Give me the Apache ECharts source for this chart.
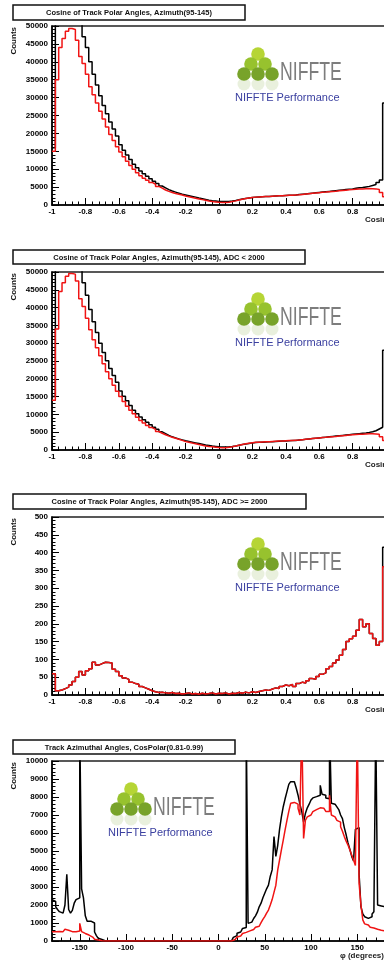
<!DOCTYPE html>
<html><head><meta charset="utf-8">
<script src="https://cdn.jsdelivr.net/npm/echarts@6/dist/echarts.min.js"></script>
<style>html,body{margin:0;padding:0;background:#fff}#c{width:384px;height:961px}</style>
</head><body><div id="c"></div><script>
// ---------- DATA ----------
// Cosine histograms: 100 bins of width 0.02 from -1 to 1 (values per bin)
const cosBinLow = -1, cosBinWidth = 0.02;
const cosTickLabels = ['-1','-0.8','-0.6','-0.4','-0.2','0','0.2','0.4','0.6','0.8','1'];

const p1Black = [
 16000,55000,62000,66000,68000,68000,65000,58000,51000,47000,
 44000,40000,36500,33500,30500,27800,25500,23200,21200,19300,
 16800,15300,14000,12700,11400,10400,9500,8700,8000,7300,
 6600,6000,5300,4800,4300,3900,3600,3300,3000,2800,
 2600,2400,2200,1950,1750,1550,1350,1200,1100,1000,
 950,950,1000,1100,1250,1450,1650,1800,1950,2100,
 2200,2250,2300,2350,2400,2450,2500,2550,2600,2650,
 2700,2750,2800,2900,3000,3100,3200,3300,3400,3500,
 3600,3700,3800,3900,4000,4100,4200,4300,4400,4500,
 4650,4800,4900,5050,5200,5450,5700,6300,7000,28500];
const p1Red = [
 15000,35000,44000,46500,48500,49300,49000,46000,41500,39500,
 36500,33000,30800,28500,26200,24000,21800,19700,18000,16300,
 14800,13500,12200,11000,10000,9000,8200,7500,6900,6300,
 5800,5200,4700,4200,3800,3500,3200,3000,2800,2500,
 2300,2100,1900,1700,1500,1300,1100,950,850,750,
 700,700,800,950,1150,1400,1600,1800,1950,2100,
 2200,2250,2300,2350,2400,2450,2500,2550,2600,2650,
 2700,2750,2800,2850,2950,3050,3150,3250,3350,3450,
 3550,3600,3700,3800,3850,3950,4050,4150,4250,4300,
 4400,4450,4500,4550,4600,4550,4500,4300,3500,2300];

const p2Black = [
 15000,54000,61000,65000,67000,67000,64000,57000,50500,47000,
 43500,39500,36000,33000,30000,27400,25100,22900,20900,19000,
 16600,15100,13800,12500,11200,10200,9300,8500,7800,7100,
 6400,5800,5100,4600,4100,3700,3400,3100,2850,2600,
 2400,2200,2000,1800,1600,1400,1250,1100,1000,900,
 850,850,900,1000,1150,1350,1550,1700,1850,2000,
 2100,2150,2200,2250,2300,2350,2400,2450,2500,2550,
 2600,2650,2700,2800,2900,3000,3100,3200,3300,3400,
 3500,3600,3700,3800,3900,4000,4100,4200,4300,4400,
 4500,4600,4700,4800,4950,5150,5400,5900,6400,28000];
const p2Red = [
 14000,34000,44500,47000,48800,49600,49400,47500,42500,40300,
 37000,33800,31000,28700,26500,24200,22000,20000,18200,16500,
 15000,13600,12300,11200,10200,9200,8300,7600,6900,6300,
 5800,5200,4700,4300,3900,3600,3300,3000,2700,2400,
 2200,1950,1750,1550,1350,1150,1000,900,800,700,
 650,650,750,900,1100,1350,1550,1750,1900,2050,
 2150,2200,2250,2300,2350,2400,2450,2500,2550,2600,
 2650,2700,2750,2800,2900,3000,3100,3200,3300,3400,
 3500,3550,3650,3750,3800,3900,4000,4100,4200,4300,
 4350,4400,4450,4500,4550,4550,4500,4400,3700,2700];

const p3Black = [
 60,12,14,18,22,28,38,50,66,56,
 68,74,92,84,88,92,91,90,72,66,
 54,48,44,36,32,30,24,20,16,12,
 9,7,8,6,5,7,4,5,3,4,
 6,3,4,2,5,3,4,6,3,5,
 4,6,3,5,4,7,5,8,6,9,
 7,10,12,14,13,17,20,18,24,28,
 26,30,24,32,36,34,40,46,44,52,
 58,62,74,80,90,98,112,128,150,158,
 165,182,212,192,200,173,159,140,150,415];
const p3Red = [
 60,12,14,18,22,28,38,50,66,56,
 68,74,92,84,88,92,91,90,72,66,
 54,48,44,36,32,30,24,20,16,12,
 9,7,8,6,5,7,4,5,3,4,
 6,3,4,2,5,3,4,6,3,5,
 4,6,3,5,4,7,5,8,6,9,
 7,10,12,14,13,17,20,18,24,28,
 26,30,24,32,36,34,40,46,44,52,
 58,62,74,80,90,98,112,128,150,158,
 165,182,212,192,200,173,159,140,150,360];

// Azimuth histograms: 180 bins of width 2 degrees from -180 to 180
const phiBinLow = -180, phiBinWidth = 2;
const phiTickValues = [-150,-100,-50,0,50,100,150];
const p4Black = [
 2300,2200,1900,1750,1630,1550,1600,2000,3700,1750,
 1550,1700,2100,2300,2400,12000,2900,2400,1400,1100,
 1100,1170,1000,500,300,150,80,20,0,0,
 0,0,0,0,0,0,0,0,0,0,
 0,0,0,0,0,0,0,0,0,0,
 0,0,0,0,0,0,0,0,0,0,
 0,0,0,0,0,0,0,0,0,0,
 0,0,0,0,0,0,0,0,0,0,
 0,0,0,0,0,0,0,0,0,0,
 0,0,0,0,0,0,0,60,200,300,
 430,500,610,700,750,12000,980,1050,1100,1250,
 1400,1600,1900,2100,2400,2650,2900,3100,3600,3950,
 5800,4700,5300,6200,6900,7460,7900,8300,8700,8850,
 8850,8800,8500,8100,7600,7200,6600,7100,7400,7600,
 7830,7950,8020,8100,8100,8650,8150,8100,7950,7900,
 12000,7650,7600,7560,7450,7300,7000,6800,6300,5900,
 5450,5100,4700,4450,6200,6300,3700,1900,1500,1350,
 1260,1300,1350,1500,1630,12000,2000,1950,1900,1900];
const p4Red = [
 520,520,560,530,520,520,560,650,600,540,
 520,520,520,540,560,980,520,420,390,330,
 300,220,150,100,60,30,10,0,0,0,
 0,0,0,0,0,0,0,0,0,0,
 0,0,0,0,0,0,0,0,0,0,
 0,0,0,0,0,0,0,0,0,0,
 0,0,0,0,0,0,0,0,0,0,
 0,0,0,0,0,0,0,0,0,0,
 0,0,0,0,0,0,0,0,0,0,
 0,0,0,0,0,0,0,20,80,150,
 220,280,330,420,480,520,560,600,640,700,
 760,820,920,1020,1200,1350,1550,1720,2000,2300,
 2700,3100,3940,4500,5060,5600,6170,6700,7200,7650,
 7700,7740,7600,7370,7000,12000,5700,6720,6900,7000,
 7100,7190,7300,7370,7400,7370,7370,7300,7200,7190,
 8100,7000,6900,6820,6700,6600,6350,6100,5800,5550,
 5330,5050,4780,4500,4200,12000,3200,2000,1170,950,
 890,820,760,720,680,650,620,600,580,560];

const titles = [
 'Cosine of Track Polar Angles, Azimuth(95-145)',
 'Cosine of Track Polar Angles, Azimuth(95-145), ADC < 2000',
 'Cosine of Track Polar Angles, Azimuth(95-145), ADC >= 2000',
 'Track Azimuthal Angles, CosPolar(0.81-0.99)'];
const yTitle = 'Counts';
const xTitles = ['Cosine', 'Cosine', 'Cosine', '\u03c6 (degrees)'];

// ---------- BUILD ----------
function hist(low, width, vals) {
  const d = vals.map((v, i) => [+(low + i * width).toFixed(4), v]);
  d.push([+(low + vals.length * width).toFixed(4), vals[vals.length - 1]]);
  return d;
}
const FONT = 'Liberation Sans';
const BLACK = '#000', RED = '#f01414';
const grids = [
  {left: 52, top: 26, width: 334, height: 179},
  {left: 52, top: 272, width: 334, height: 178},
  {left: 52, top: 517, width: 334, height: 178},
  {left: 52, top: 761, width: 333, height: 180}
].map(g => Object.assign(g, {show: true, borderColor: '#222', borderWidth: 1.5,
  containLabel: false, outerBoundsMode: 'none'}));

const lbl = {color: '#000', fontSize: 8, fontWeight: 'bold', fontFamily: FONT};
function cosX(gi) {
  return {gridIndex: gi, type: 'value', min: -1, max: 1, interval: 0.2,
    axisLine: {show: true, onZero: false, lineStyle: {color: '#000', width: 1.5}},
    axisTick: {show: true, inside: true, length: 7, lineStyle: {color: '#000'}},
    minorTick: {show: true, splitNumber: 5, length: 3.5, lineStyle: {color: '#000'}},
    splitLine: {show: false}, minorSplitLine: {show: false},
    axisLabel: Object.assign({margin: 3, formatter: v => cosTickLabels[Math.round((v + 1) / 0.2)]}, lbl)};
}
function yAx(gi, max, interval) {
  return {gridIndex: gi, type: 'value', min: 0, max: max, interval: interval,
    axisLine: {show: true, onZero: false, lineStyle: {color: '#000', width: 1.5}},
    axisTick: {show: true, inside: true, length: 7, lineStyle: {color: '#000'}},
    minorTick: {show: true, splitNumber: 5, length: 3.5, lineStyle: {color: '#000'}},
    splitLine: {show: false}, minorSplitLine: {show: false},
    axisLabel: Object.assign({margin: 4, formatter: v => String(v)}, lbl)};
}
const xAxes = [cosX(0), cosX(1), cosX(2),
  {gridIndex: 3, type: 'value', min: -180, max: 180, position: 'bottom',
    axisLine: {show: true, onZero: false, lineStyle: {color: '#000', width: 1.5}},
    axisTick: {show: true, inside: true, length: 7, customValues: phiTickValues, lineStyle: {color: '#000'}},
    splitLine: {show: false},
    axisLabel: Object.assign({margin: 3, customValues: phiTickValues, formatter: v => String(v)}, lbl)},
  {gridIndex: 3, type: 'value', min: -180, max: 180, interval: 10, position: 'bottom',
    axisLine: {show: false}, axisLabel: {show: false}, splitLine: {show: false},
    axisTick: {show: true, inside: true, length: 3.5, lineStyle: {color: '#000'}}}
];
const yAxes = [yAx(0, 50000, 5000), yAx(1, 50000, 5000), yAx(2, 500, 50), yAx(3, 10000, 1000)];

function ser(xi, yi, data, color) {
  return {type: 'line', xAxisIndex: xi, yAxisIndex: yi, data: data, step: 'end',
    symbol: 'none', silent: true, animation: false, clip: true,
    lineStyle: {color: color, width: 1.5}, itemStyle: {color: color}};
}
const series = [
  ser(0, 0, hist(cosBinLow, cosBinWidth, p1Black), BLACK),
  ser(0, 0, hist(cosBinLow, cosBinWidth, p1Red), RED),
  ser(1, 1, hist(cosBinLow, cosBinWidth, p2Black), BLACK),
  ser(1, 1, hist(cosBinLow, cosBinWidth, p2Red), RED),
  ser(2, 2, hist(cosBinLow, cosBinWidth, p3Black), BLACK),
  ser(2, 2, hist(cosBinLow, cosBinWidth, p3Red), RED),
  ser(3, 3, hist(phiBinLow, phiBinWidth, p4Black), BLACK),
  ser(3, 3, hist(phiBinLow, phiBinWidth, p4Red), RED)
];

// decorations
const titleBoxes = [[13, 5, 232, 15], [13, 250, 292, 14], [13, 494, 293, 15], [13, 740, 222, 14]];
const logoOffsets = [[0, 0], [0, 245], [0, 490], [-127, 735]];
const graphic = [];
titleBoxes.forEach((b, i) => {
  graphic.push({type: 'rect', shape: {x: b[0], y: b[1], width: b[2], height: b[3]},
    style: {fill: '#fff', stroke: '#111', lineWidth: 1.5}, silent: true, z: 10});
  graphic.push({type: 'text', x: b[0] + b[2] / 2, y: b[1] + b[3] / 2 + 0.5,
    style: {text: titles[i], fontSize: 7.5, fontWeight: 'bold', fontFamily: FONT, fill: '#111',
      align: 'center', verticalAlign: 'middle'}, silent: true, z: 11});
});
grids.forEach((g, i) => {
  graphic.push({type: 'text', x: 14, y: g.top + 1, rotation: Math.PI / 2,
    style: {text: yTitle, fontSize: 8, fontWeight: 'bold', fontFamily: FONT, fill: '#111',
      align: 'right', verticalAlign: 'middle'}, silent: true});
  graphic.push({type: 'text', x: i < 3 ? 365 : 340, y: g.top + g.height + 15,
    style: {text: xTitles[i], fontSize: 8, fontWeight: 'bold', fontFamily: FONT, fill: '#222',
      align: 'left', verticalAlign: 'middle'}, silent: true});
});
function logo(dx, dy) {
  const circ = [[258, 54, '#b6d535'], [251, 64, '#97c22e'], [265, 64, '#97c22e'],
    [244, 74, '#78a32a'], [258, 74, '#78a32a'], [272, 74, '#78a32a']];
  circ.forEach(c => graphic.push({type: 'circle', shape: {cx: c[0] + dx, cy: c[1] + dy, r: 6.8},
    style: {fill: c[2]}, silent: true}));
  [[244, 84], [258, 84], [272, 84]].forEach(c => graphic.push({type: 'circle',
    shape: {cx: c[0] + dx, cy: c[1] + dy, r: 6.5}, style: {fill: 'rgba(120,163,42,0.16)'}, silent: true}));
  graphic.push({type: 'text', x: 280 + dx, y: 73 + dy, scaleX: 0.68,
    style: {text: 'NIFFTE', fontSize: 26, fontFamily: FONT, fill: '#7d7d7d',
      align: 'left', verticalAlign: 'middle'}, silent: true});
  graphic.push({type: 'text', x: 235 + dx, y: 97.5 + dy,
    style: {text: 'NIFFTE Performance', fontSize: 11, fontFamily: FONT, fill: '#3b40a0',
      align: 'left', verticalAlign: 'middle'}, silent: true});
}
logoOffsets.forEach(o => logo(o[0], o[1]));

const chart = echarts.init(document.getElementById('c'), null, {renderer: 'canvas'});
chart.setOption({
  backgroundColor: '#fff', animation: false,
  grid: grids, xAxis: xAxes, yAxis: yAxes, series: series, graphic: graphic
});
</script></body></html>
